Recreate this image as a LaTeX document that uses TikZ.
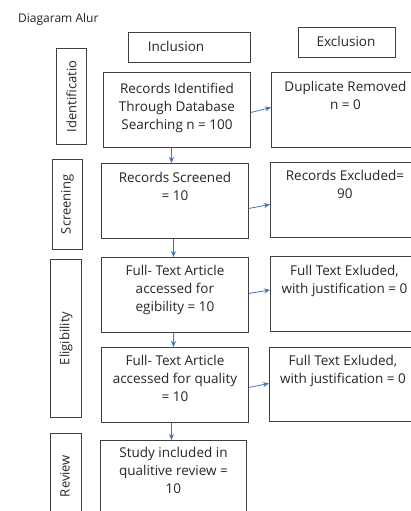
\documentclass[tikz,border=0pt]{standalone}
\usepackage{fontspec}
\setmainfont{Open Sans}
\usetikzlibrary{arrows.meta}
\definecolor{arrblue}{HTML}{4472C4}
\definecolor{boxgray}{HTML}{404040}
\definecolor{txtgray}{HTML}{262626}
\tikzset{
  box/.style={draw=boxgray, line width=0.9pt, inner sep=0pt, anchor=north west},
  txt/.style={anchor=north, align=center, inner sep=0pt, text=txtgray, font=\fontsize{13.5}{18}\selectfont},
  side/.style={rotate=90, inner sep=0pt, text=txtgray, font=\fontsize{13}{15}\selectfont},
  hdr/.style={inner sep=0pt, text=txtgray, font=\fontsize{13.5}{15}\selectfont},
  arr/.style={draw=arrblue, line width=0.8pt, -{Stealth[length=6pt,width=5pt]}}
}
\begin{document}
\begin{tikzpicture}[x=1pt,y=-1pt]
\clip (0,0) rectangle (411,511);
\fill[white] (0,0) rectangle (411,511);
% title
\node[anchor=west, inner sep=0pt, text=txtgray, font=\fontsize{12}{14}\selectfont] (title) at (18,19.5) {Diagaram Alur};
% headers
\node[box, minimum width=122pt, minimum height=30pt] (inc) at (128,32) {};
\node[hdr] (inct) at (176,46) {Inclusion};
\node[box, minimum width=97pt, minimum height=30pt] (exc) at (298,27) {};
\node[hdr] (exct) at (346,41.5) {Exclusion};
% side boxes
\node[box, minimum width=30pt, minimum height=96pt] (s1) at (56,48) {};
\node[side] (s1t) at (s1.center) {Identificatio};
\node[box, minimum width=30pt, minimum height=90pt] (s2) at (52,159) {};
\node[side] (s2t) at (s2.center) {Screening};
\node[box, minimum width=31pt, minimum height=158pt] (s3) at (50,259) {};
\node[side] (s3t) at (s3.center) {Eligibility};
\node[box, minimum width=31pt, minimum height=100pt] (s4) at (50,433) {};
\node[side] (s4t) at (65,476) {Review};
% inclusion boxes
\node[box, minimum width=147pt, minimum height=75pt] (b1) at (103,72) {};
\node[txt] (b1t) at ([yshift=-10.5pt]b1.north) {Records Identified\\Through Database\\Searching n = 100};
\node[box, minimum width=147pt, minimum height=75pt] (b2) at (101,163) {};
\node[txt] (b2t) at ([yshift=-9.5pt]b2.north) {Records Screened\\= 10};
\node[box, minimum width=147pt, minimum height=75pt] (b3) at (101,257) {};
\node[txt] (b3t) at ([yshift=-8.5pt]b3.north) {Full- Text Article\\accessed for\\egibility = 10};
\node[box, minimum width=147pt, minimum height=75pt] (b4) at (101,347) {};
\node[txt] (b4t) at ([yshift=-8.5pt]b4.north) {Full- Text Article\\accessed for quality\\= 10};
\node[box, minimum width=146pt, minimum height=100pt] (b5) at (100,440) {};
\node[txt] (b5t) at ([yshift=-7.5pt]b5.north) {Study included in\\qualitive review =\\10};
% exclusion boxes
\node[box, minimum width=145pt, minimum height=75pt] (e1) at (271,72) {};
\node[txt] (e1t) at ([xshift=1.5pt,yshift=-9.5pt]e1.north) {Duplicate Removed\\n = 0};
\node[box, minimum width=145pt, minimum height=75pt] (e2) at (270,162) {};
\node[txt] (e2t) at ([xshift=2pt,yshift=-8.5pt]e2.north) {Records Excluded=\\90};
\node[box, minimum width=145pt, minimum height=75pt] (e3) at (270,256) {};
\node[txt] (e3t) at ([xshift=1.5pt,yshift=-9.5pt]e3.north) {Full Text Exluded,\\with justification = 0};
\node[box, minimum width=146pt, minimum height=74pt] (e4) at (269,347) {};
\node[txt] (e4t) at ([xshift=0.5pt,yshift=-8.5pt]e4.north) {Full Text Exluded,\\with justification = 0};
% arrows
\draw[arr] ([yshift=-2.5pt]b1.east) -- ([yshift=2.5pt]e1.west);
\draw[arr] ([yshift=-7.5pt]b2.east) -- ([yshift=-4.5pt]e2.west);
\draw[arr] ([yshift=1.5pt]b3.east) -- ([yshift=4pt]e3.west);
\draw[arr] ([yshift=-2.5pt]b4.east) -- ([yshift=1pt]e4.west);
\draw[arr] ([xshift=-5.5pt]b1.south) -- ([xshift=-3.5pt]b2.north);
\draw[arr] ([xshift=-1.5pt]b2.south) -- ([xshift=-1.5pt]b3.north);
\draw[arr] ([xshift=-1.5pt]b3.south) -- ([xshift=-1.5pt]b4.north);
\draw[arr] ([xshift=-3.5pt]b4.south) -- ([xshift=-2pt]b5.north);
\end{tikzpicture}
\end{document}
